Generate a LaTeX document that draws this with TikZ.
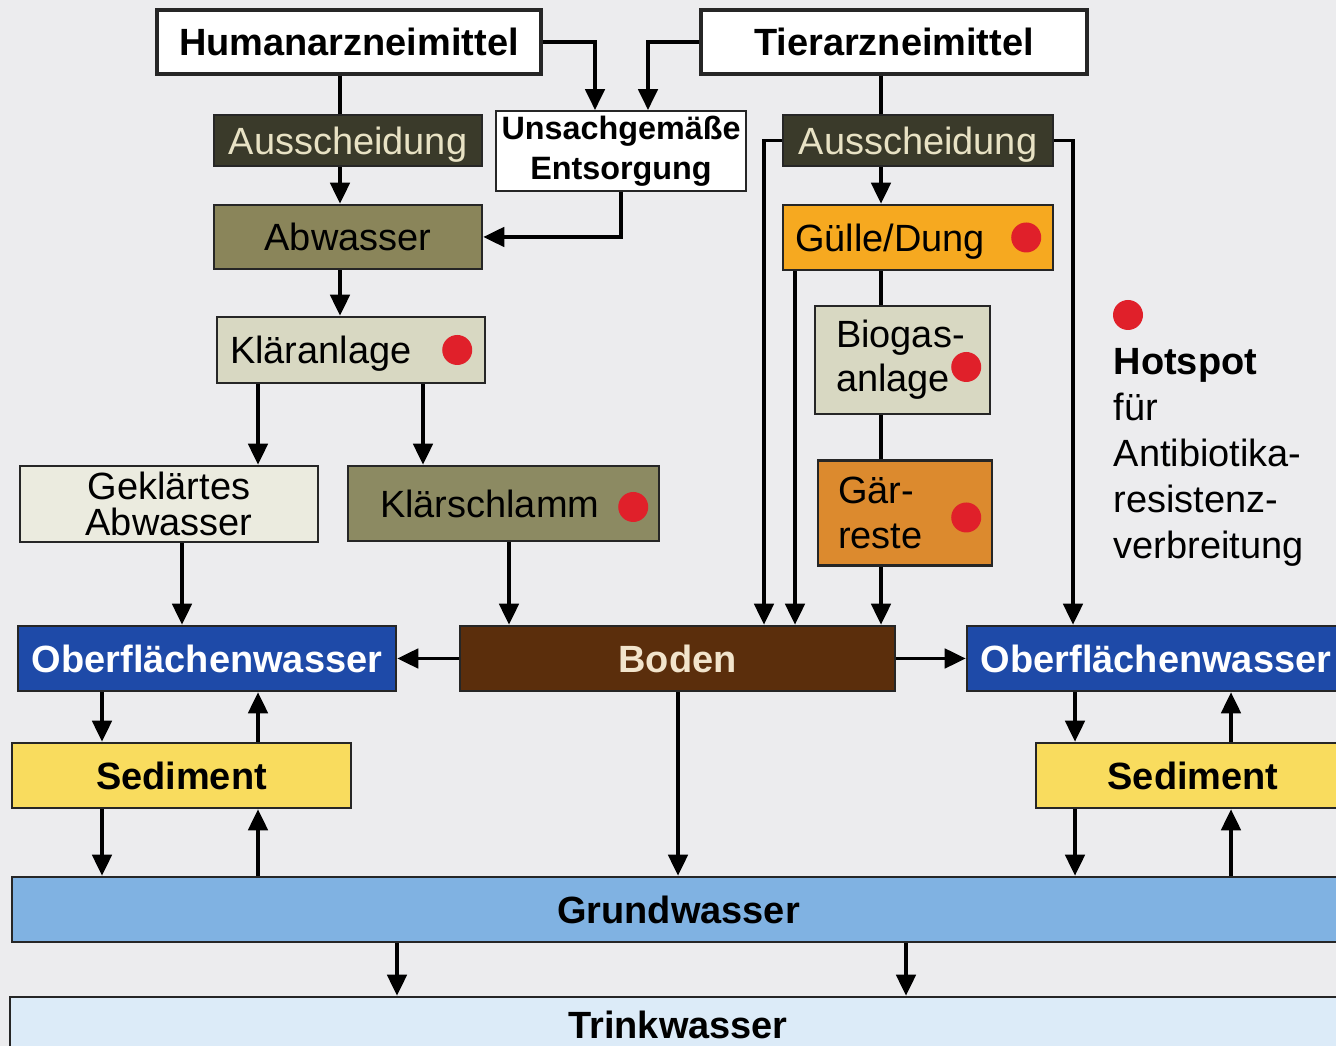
\documentclass[tikz,border=0pt]{standalone}
\usepackage{fontspec}
\setmainfont{Liberation Sans}
\usetikzlibrary{arrows.meta}
\definecolor{bggrey}{RGB}{236,236,238}
\definecolor{ausdark}{RGB}{58,58,42}
\definecolor{austext}{RGB}{232,226,196}
\definecolor{olivea}{RGB}{138,133,90}
\definecolor{oliveb}{RGB}{140,138,98}
\definecolor{beigea}{RGB}{216,216,194}
\definecolor{beigeb}{RGB}{235,235,223}
\definecolor{guelleorange}{RGB}{246,169,32}
\definecolor{gaerorange}{RGB}{220,138,46}
\definecolor{waterblue}{RGB}{30,74,168}
\definecolor{soilbrown}{RGB}{91,46,12}
\definecolor{soiltext}{RGB}{242,228,204}
\definecolor{sedyellow}{RGB}{249,220,94}
\definecolor{groundblue}{RGB}{128,178,226}
\definecolor{drinkblue}{RGB}{220,235,248}
\definecolor{hotred}{RGB}{224,32,42}

\begin{document}
\begin{tikzpicture}[
  box/.style={draw=black!85, line width=0.7pt, inner sep=0pt, font=\fontsize{10.8}{13}\selectfont},
  low/.style={text depth=0pt},
  flow/.style={line width=1.1pt, -{Triangle[width=5.5pt,length=6pt]}},
  link/.style={line width=1.1pt}
]
\useasboundingbox (0,0) rectangle (13.36,-10.46);
\clip (0,0) rectangle (13.36,-10.46);
\fill[bggrey] (0,0) rectangle (13.36,-10.46);
% Sources
\node[box, line width=1pt, fill=white, minimum width=3.84cm, minimum height=0.64cm, font=\fontsize{10.8}{13}\selectfont\bfseries] (hum) at (3.49,-0.42) {Humanarzneimittel};
\node[box, line width=1pt, fill=white, minimum width=3.86cm, minimum height=0.64cm, font=\fontsize{10.8}{13}\selectfont\bfseries] (tier) at (8.94,-0.42) {Tierarzneimittel};
\node[box, line width=0.5pt, fill=white, minimum width=2.50cm, minimum height=0.80cm, align=center, font=\fontsize{9.2}{11.4}\selectfont\bfseries] (unsach) at (6.21,-1.51) {Unsachgemäße\\Entsorgung};
% Human path
\node[box, low, fill=ausdark, text=austext, minimum width=2.68cm, minimum height=0.51cm] (ausL) at (3.48,-1.405) {Ausscheidung};
\node[box, fill=olivea, minimum width=2.68cm, minimum height=0.64cm] (abw) at (3.48,-2.37) {Abwasser};
\node[box, low, fill=beigea, minimum width=2.68cm, minimum height=0.66cm, text width=2.42cm, inner xsep=0.13cm, align=left] (klaer) at (3.51,-3.50) {Kläranlage};
\node[box, fill=beigeb, minimum width=2.98cm, minimum height=0.76cm, align=center, font=\fontsize{10.8}{10}\selectfont] (geklaert) at (1.69,-5.04) {Geklärtes\\Abwasser};
\node[box, low, fill=oliveb, minimum width=3.11cm, minimum height=0.75cm, text width=2.47cm, inner xsep=0.32cm, align=left] (schlamm) at (5.035,-5.035) {Klärschlamm};
% Animal path
\node[box, low, fill=ausdark, text=austext, minimum width=2.70cm, minimum height=0.51cm] (ausR) at (9.18,-1.405) {Ausscheidung};
\node[box, low, fill=guelleorange, minimum width=2.70cm, minimum height=0.65cm, text width=2.46cm, inner xsep=0.12cm, align=left] (guelle) at (9.18,-2.375) {Gülle/Dung};
\node[box, fill=beigea, minimum width=1.75cm, minimum height=1.08cm, text width=1.33cm, inner xsep=0.21cm, align=left, font=\fontsize{10.8}{12.5}\selectfont] (biogas) at (9.025,-3.60) {Biogas-\\anlage};
\node[box, fill=gaerorange, minimum width=1.74cm, minimum height=1.05cm, text width=1.34cm, inner xsep=0.20cm, align=left, font=\fontsize{10.8}{13}\selectfont] (gaer) at (9.05,-5.13) {Gär-\\reste};
% Compartments
\node[box, fill=waterblue, text=white, minimum width=3.78cm, minimum height=0.65cm, font=\fontsize{10.8}{13}\selectfont\bfseries] (oberL) at (2.07,-6.585) {Oberflächenwasser};
\node[box, fill=soilbrown, text=soiltext, minimum width=4.35cm, minimum height=0.65cm, font=\fontsize{10.8}{13}\selectfont\bfseries] (boden) at (6.775,-6.585) {Boden};
\node[box, fill=waterblue, text=white, minimum width=3.78cm, minimum height=0.65cm, font=\fontsize{10.8}{13}\selectfont\bfseries] (oberR) at (11.56,-6.585) {Oberflächenwasser};
\node[box, fill=sedyellow, minimum width=3.39cm, minimum height=0.65cm, font=\fontsize{10.8}{13}\selectfont\bfseries] (sedL) at (1.815,-7.755) {Sediment};
\node[box, fill=sedyellow, minimum width=3.14cm, minimum height=0.65cm, font=\fontsize{10.8}{13}\selectfont\bfseries] (sedR) at (11.93,-7.755) {Sediment};
\node[box, fill=groundblue, minimum width=13.33cm, minimum height=0.65cm, font=\fontsize{10.8}{13}\selectfont\bfseries] (grund) at (6.785,-9.095) {Grundwasser};
\node[box, fill=drinkblue, minimum width=13.36cm, minimum height=0.56cm, font=\fontsize{10.8}{13}\selectfont\bfseries] (trink) at (6.78,-10.25) {Trinkwasser};
% Hotspot dots
\fill[hotred] ([xshift=-0.29cm]klaer.east) circle (0.15);
\fill[hotred] ([xshift=-0.27cm,yshift=-0.035cm]schlamm.east) circle (0.15);
\fill[hotred] ([xshift=-0.28cm]guelle.east) circle (0.15);
\fill[hotred] ([xshift=-0.25cm,yshift=-0.07cm]biogas.east) circle (0.15);
\fill[hotred] ([xshift=-0.27cm,yshift=-0.045cm]gaer.east) circle (0.15);
% Legend
\fill[hotred] (11.28,-3.15) circle (0.15);
\node[anchor=west, align=left, inner sep=0pt, font=\fontsize{10.8}{13.1}\selectfont] (legend) at (11.13,-4.57) {\textbf{Hotspot}\\für\\Antibiotika-\\resistenz-\\verbreitung};
% Columns for vertical connectors
\coordinate (cA) at (3.40,0);
\coordinate (cB) at (5.95,0);
\coordinate (cC) at (6.48,0);
\coordinate (cE) at (2.58,0);
\coordinate (cF) at (4.23,0);
\coordinate (cG) at (1.82,0);
\coordinate (cH) at (5.09,0);
\coordinate (cI) at (8.81,0);
\coordinate (cJ) at (7.64,0);
\coordinate (cK) at (7.95,0);
\coordinate (cL) at (10.73,0);
\coordinate (cM) at (1.02,0);
\coordinate (cN) at (6.78,0);
\coordinate (cO) at (10.75,0);
\coordinate (cP) at (12.31,0);
\coordinate (cQ) at (3.97,0);
\coordinate (cR) at (9.06,0);
% Upper flows
\draw[flow] (hum.east) -| (unsach.north -| cB);
\draw[flow] (tier.west) -| (unsach.north -| cC);
\draw[flow] (unsach.south) |- (abw.east);
\draw[link] (hum.south -| cA) -- (ausL.north -| cA);
\draw[flow] (ausL.south -| cA) -- (abw.north -| cA);
\draw[flow] (abw.south -| cA) -- (klaer.north -| cA);
\draw[flow] (klaer.south -| cE) -- (geklaert.north -| cE);
\draw[flow] (klaer.south -| cF) -- (schlamm.north -| cF);
\draw[flow] (geklaert.south -| cG) -- (oberL.north -| cG);
\draw[flow] (schlamm.south -| cH) -- (boden.north -| cH);
\draw[link] (tier.south -| cI) -- (ausR.north -| cI);
\draw[flow] (ausR.south -| cI) -- (guelle.north -| cI);
\draw[link] (guelle.south -| cI) -- (biogas.north -| cI);
\draw[link] (biogas.south -| cI) -- (gaer.north -| cI);
\draw[flow] (gaer.south -| cI) -- (boden.north -| cI);
\draw[flow] (ausR.west) -| (boden.north -| cJ);
\draw[flow] (guelle.south -| cK) -- (boden.north -| cK);
\draw[flow] (ausR.east) -| (oberR.north -| cL);
\draw[flow] (boden.west) -- (oberL.east);
\draw[flow] (boden.east) -- (oberR.west);
% Water and sediment exchange
\draw[flow] (oberL.south -| cM) -- (sedL.north -| cM);
\draw[flow] (sedL.north -| cE) -- (oberL.south -| cE);
\draw[flow] (sedL.south -| cM) -- (grund.north -| cM);
\draw[flow] (grund.north -| cE) -- (sedL.south -| cE);
\draw[flow] (boden.south -| cN) -- (grund.north -| cN);
\draw[flow] (oberR.south -| cO) -- (sedR.north -| cO);
\draw[flow] (sedR.north -| cP) -- (oberR.south -| cP);
\draw[flow] (sedR.south -| cO) -- (grund.north -| cO);
\draw[flow] (grund.north -| cP) -- (sedR.south -| cP);
\draw[flow] (grund.south -| cQ) -- (trink.north -| cQ);
\draw[flow] (grund.south -| cR) -- (trink.north -| cR);
\end{tikzpicture}
\end{document}
